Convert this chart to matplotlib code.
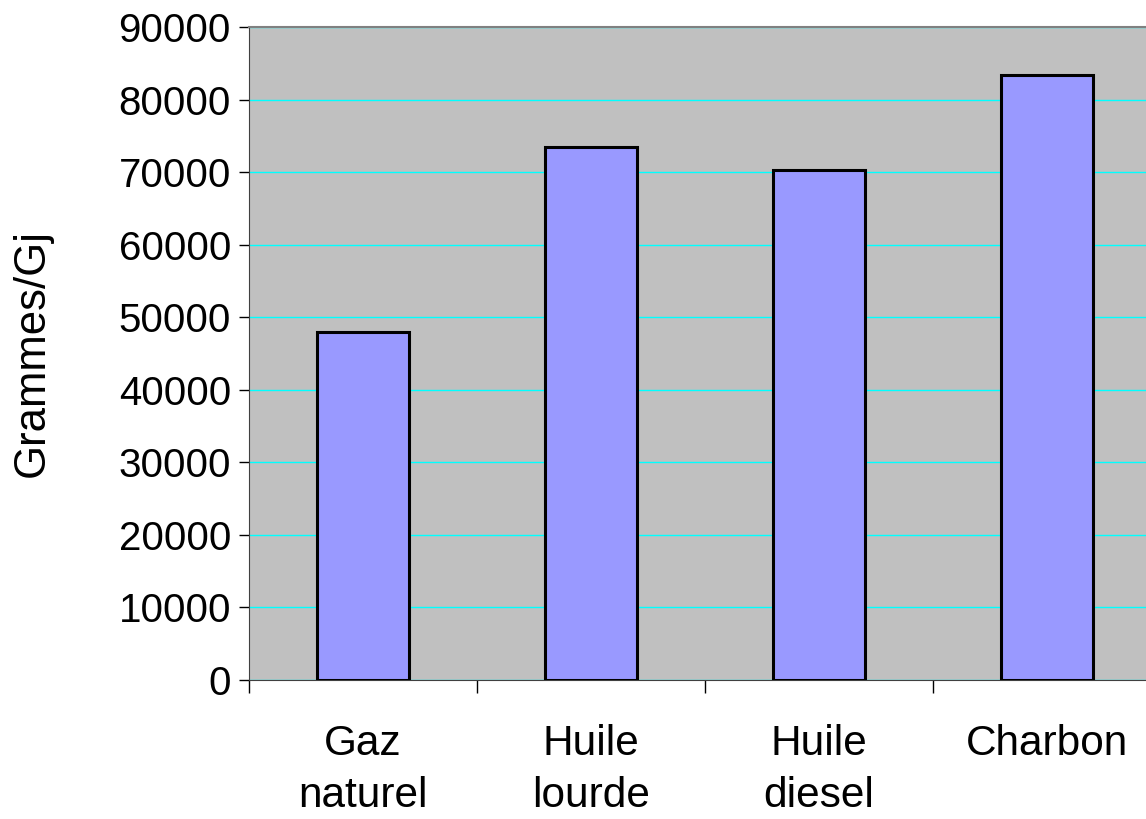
import matplotlib.pyplot as plt
import numpy as np

# Data
categories = ['Gaz\nnaturel', 'Huile\nlourde', 'Huile\ndiesel', 'Charbon']
values = [48000, 73500, 70300, 83400]
yticks = list(range(0, 90001, 10000))

plt.rcParams['font.family'] = ['Liberation Sans', 'DejaVu Sans']

fig = plt.figure(figsize=(11.46, 8.19), dpi=100)
ax = fig.add_axes([249 / 1146, 139 / 819, 912 / 1146, 653 / 819])
ax.set_facecolor('#C0C0C0')

x = np.arange(len(categories))
ax.bar(x, values, width=0.4, color='#9999FF', edgecolor='black', linewidth=2.2, zorder=3)

ax.set_xlim(-0.5, len(categories) - 0.5)
ax.set_ylim(0, 90000)
ax.set_yticks(yticks)
ax.yaxis.grid(True, color='#00FFFF', linewidth=1, zorder=1)
ax.tick_params(axis='y', direction='out', length=7, width=1, labelsize=29, pad=6)

# category labels at bar centres, tick marks at category boundaries
ax.set_xticks(x)
ax.set_xticklabels(categories, fontsize=30.5, linespacing=1.38, va='top')
ax.tick_params(axis='x', which='major', length=0, pad=32)
ax.set_xticks(np.arange(-0.5, len(categories)), minor=True)
ax.tick_params(axis='x', which='minor', direction='out', length=9, width=1)

for side in ['top', 'right']:
    ax.spines[side].set_color('#808080')
    ax.spines[side].set_linewidth(1.5)
ax.spines['left'].set_color('#404040')
ax.spines['bottom'].set_color('#404040')

ax.set_ylabel('Grammes/Gj', fontsize=31.5, labelpad=47)

plt.savefig('out.png', dpi=100)
plt.close()
